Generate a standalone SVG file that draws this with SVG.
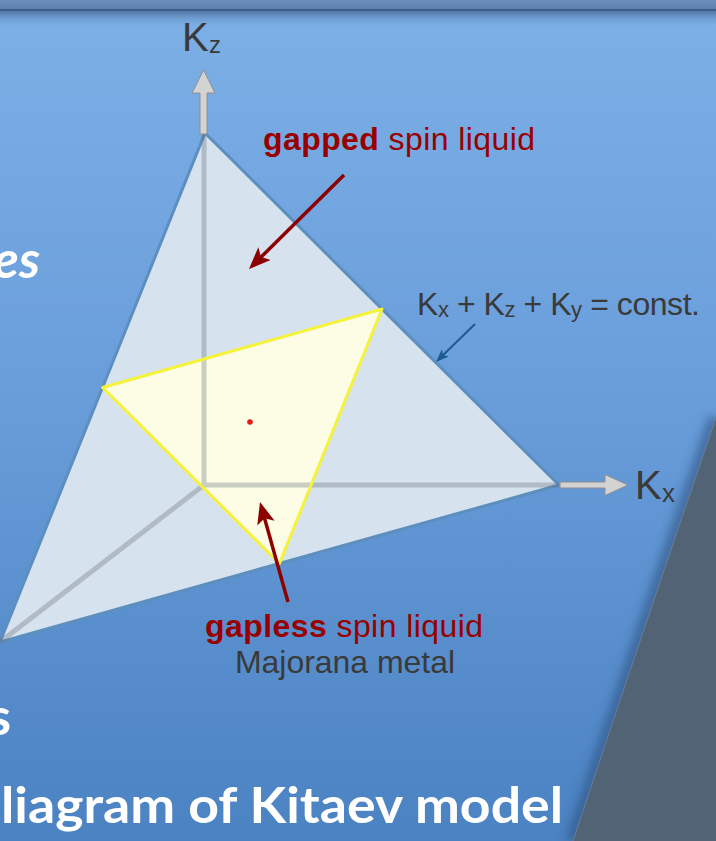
<svg xmlns="http://www.w3.org/2000/svg" width="716" height="841" viewBox="0 0 716 841">
  <defs>
    <linearGradient id="bg" x1="0" y1="0" x2="0" y2="841" gradientUnits="userSpaceOnUse">
      <stop offset="0" stop-color="#7db0e6"/>
      <stop offset="0.45" stop-color="#6a9edb"/>
      <stop offset="1" stop-color="#4b82c2"/>
    </linearGradient>
    <linearGradient id="hdr" x1="0" y1="0" x2="0" y2="10" gradientUnits="userSpaceOnUse">
      <stop offset="0" stop-color="#6e8fbd"/>
      <stop offset="1" stop-color="#5a7eae"/>
    </linearGradient>
    <linearGradient id="hdrShadow" x1="0" y1="11" x2="0" y2="28" gradientUnits="userSpaceOnUse">
      <stop offset="0" stop-color="#4f74a4"/>
      <stop offset="1" stop-color="#7aade4" stop-opacity="0"/>
    </linearGradient>
    <filter id="blur" x="-0.5" y="-0.1" width="2" height="1.2">
      <feGaussianBlur stdDeviation="5"/>
    </filter>
    <marker id="redHead" viewBox="0 0 22 18" markerWidth="22" markerHeight="18" refX="12" refY="9" orient="auto" markerUnits="userSpaceOnUse">
      <path d="M0,0 L22,9 L0,18 L5,9 Z" fill="#8c0000"/>
    </marker>
    <marker id="blueHead" viewBox="0 0 13 10" markerWidth="13" markerHeight="10" refX="7" refY="5" orient="auto" markerUnits="userSpaceOnUse">
      <path d="M0,0 L13,5 L0,10 L3,5 Z" fill="#1d5a92"/>
    </marker>
    <style>
      .lbl { font-family: "Liberation Sans", Arial, sans-serif; fill: #3a3a3a; }
      .red { font-family: "Liberation Sans", Arial, sans-serif; fill: #980000; font-size: 32px; }
      .title { font-family: Lato, "Open Sans", sans-serif; font-weight: bold; fill: #ffffff; }
      .redArrow { stroke: #8c0000; stroke-width: 3.5; fill: none; marker-end: url(#redHead); }
      .blueArrow { stroke: #1d5a92; stroke-width: 2; fill: none; marker-end: url(#blueHead); }
      .axisOut { fill: #d3d3d3; stroke: #8e8e8e; stroke-width: 1; }
    </style>
  </defs>

  <!-- background -->
  <rect x="0" y="0" width="716" height="841" fill="url(#bg)"/>
  <rect x="0" y="0" width="716" height="10" fill="url(#hdr)"/>
  <rect x="0" y="9" width="716" height="2.5" fill="#3d5c86"/>
  <rect x="0" y="11.5" width="716" height="17" fill="url(#hdrShadow)"/>

  <!-- dark right panel -->
  <path d="M716,418 Q650,610 573,841" fill="none" stroke="#2a4a7a" stroke-width="16" stroke-opacity="0.55" filter="url(#blur)"/>
  <path d="M716,418 Q650,610 573,841 L716,841 Z" fill="#516375"/>
  <path d="M716,418 Q650,610 573,841" fill="none" stroke="#6b7f94" stroke-width="1"/>

  <!-- side text fragments -->
  <text class="title" x="40" y="278" font-size="52" font-style="italic" text-anchor="end">es</text>
  <text class="title" x="11" y="735" font-size="52" text-anchor="end">s</text>
  <text class="title" x="1" y="823" font-size="50" textLength="562" lengthAdjust="spacingAndGlyphs">liagram of Kitaev model</text>

  <!-- plane -->
  <g id="plane">
    <polygon points="205,133 559,485 0,642" fill="#d6e2ee" stroke="#5d8fbe" stroke-width="3" stroke-linejoin="round"/>
  </g>

  <g id="gapless-region">
    <polygon points="102.5,387.5 382,309 279.5,563.5" fill="#fdfde6"/>
  </g>

  <!-- axes -->
  <g id="axes">
    <path d="M204,133 L204,485 L559,485 M204,485 L0,642" fill="none" stroke="#5f6a76" stroke-opacity="0.32" stroke-width="5"/>
    <polygon class="axisOut" points="203.5,70 192,93 200,93 200,134 207,134 207,93 215,93"/>
    <polygon class="axisOut" points="628,485 605,474.5 605,482 560,482 560,488 605,488 605,495.5"/>
  </g>

  <g id="gapless-outline">
    <polygon points="102.5,387.5 382,309 279.5,563.5" fill="none" stroke="#f5f23a" stroke-width="3" stroke-linejoin="round"/>
    <circle cx="250" cy="422" r="2.8" fill="#e8190f"/>
  </g>

  <!-- axis labels -->
  <g id="label-kz">
    <text class="lbl" x="182" y="51" font-size="40">K</text>
    <text class="lbl" x="209" y="53" font-size="24">z</text>
  </g>
  <g id="label-kx">
    <text class="lbl" x="635" y="499" font-size="40">K</text>
    <text class="lbl" x="662" y="502" font-size="26">x</text>
  </g>

  <g id="label-const">
    <text class="lbl" x="417" y="315" font-size="32" textLength="283" lengthAdjust="spacing">K<tspan font-size="22" dy="2">x</tspan><tspan dy="-2"> + K</tspan><tspan font-size="22" dy="2">z</tspan><tspan dy="-2"> + K</tspan><tspan font-size="22" dy="2">y</tspan><tspan dy="-2"> = const.</tspan></text>
  </g>

  <g id="label-gapped">
    <text class="red" x="263" y="150" textLength="272" lengthAdjust="spacing"><tspan font-weight="bold">gapped</tspan> spin liquid</text>
  </g>

  <g id="label-gapless">
    <text class="red" x="205" y="637" textLength="278" lengthAdjust="spacing"><tspan font-weight="bold">gapless</tspan> spin liquid</text>
    <text class="lbl" x="235" y="673" font-size="32" textLength="220" lengthAdjust="spacing">Majorana metal</text>
  </g>

  <!-- connectors -->
  <g id="connectors">
    <line class="redArrow" x1="344" y1="175" x2="256.1" y2="262"/>
    <line class="redArrow" x1="288" y1="602" x2="262.7" y2="511.6"/>
    <line class="blueArrow" x1="475" y1="324" x2="440.3" y2="357.8"/>
  </g>
</svg>
